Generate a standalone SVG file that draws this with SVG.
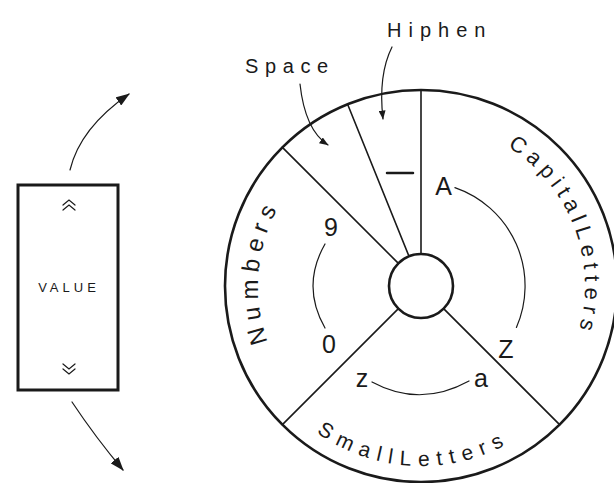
<svg xmlns="http://www.w3.org/2000/svg" width="614" height="483" viewBox="0 0 614 483">
<style>
.ln{fill:none;stroke:#1a1a1a;stroke-linecap:round}
.thick{stroke-width:2.6}
.mid{stroke-width:1.6}
.thin{stroke-width:1.2}
.t{font-family:"Liberation Sans",Arial,sans-serif;fill:#1a1a1a}
.big{font-size:25px;text-anchor:middle}
.cap{font-size:22px;letter-spacing:5.7px}
.num{font-size:24px;letter-spacing:6.5px}
.sml{font-size:21px;letter-spacing:7.4px}
.top{font-size:20px}
</style>
<defs>
<marker id="ahBig" viewBox="0 0 14 10" refX="13" refY="5" markerWidth="14" markerHeight="10" markerUnits="userSpaceOnUse" orient="auto"><path d="M0,0 L14,5 L0,10 z" fill="#1a1a1a"/></marker>
<marker id="ahSmall" viewBox="0 0 9 7" refX="8.5" refY="3.5" markerWidth="9" markerHeight="7" markerUnits="userSpaceOnUse" orient="auto"><path d="M0,0 L9,3.5 L0,7 z" fill="#1a1a1a"/></marker>
<path id="pNumbers" d="M305.7,401.3 A163,163 0 0 1 327.5,152.5"/>
<path id="pCapital" d="M475.5,131.3 A164,164 0 0 1 563.9,366.5"/>
<path id="pSmall" d="M277.7,395 A180,180 0 0 0 553.2,408.2"/>
</defs>
<rect width="614" height="483" fill="#ffffff"/>

<g id="value-box">
<rect x="18" y="185" width="100" height="205" class="ln" stroke-width="3"/>
<path class="ln thin" d="M63,205 L69,200 L75,205 M63,210 L69,205 L75,210"/>
<text class="t" x="69" y="292" font-size="13" letter-spacing="4" text-anchor="middle">VALUE</text>
<path class="ln thin" d="M63,364 L69,369 L75,364 M63,369 L69,374 L75,369"/>
</g>

<g id="dial">
<circle cx="421" cy="286" r="196" class="ln thick"/>
<circle cx="421" cy="286" r="32" class="ln thick"/>
<path class="ln mid" d="M421,254 L421,90 M409,256.3 L347.6,104.3 M398.4,263.4 L282.4,147.4 M398.4,308.6 L282.4,424.6 M443.6,308.6 L559.6,424.6"/>
</g>

<g id="hyphen-segment">
<path class="ln" stroke-width="2.5" d="M387,173 L413,173"/>
</g>

<g id="capital-letters">
<text class="t cap"><textPath href="#pCapital" startOffset="50%" text-anchor="middle">CapitalLetters</textPath></text>
<text class="t big" x="443.5" y="195">A</text>
<text class="t big" x="506" y="358">Z</text>
<path class="ln thin" d="M454.9,187.6 A104,104 0 0 1 516.4,327.5"/>
</g>

<g id="numbers">
<text class="t num"><textPath href="#pNumbers" startOffset="50%" text-anchor="middle">Numbers</textPath></text>
<text class="t big" x="331" y="236">9</text>
<text class="t big" x="329" y="353">0</text>
<path class="ln thin" d="M325,244 Q301,286 325,328"/>
</g>

<g id="small-letters">
<text class="t sml"><textPath href="#pSmall" startOffset="50%" text-anchor="middle">SmallLetters</textPath></text>
<text class="t big" x="362" y="387">z</text>
<text class="t big" x="481" y="387">a</text>
<path class="ln thin" d="M372,382 Q420,408 469,381"/>
</g>

<g id="label-hiphen">
<text class="t top" x="387" y="36.5" letter-spacing="7">Hiphen</text>
</g>
<g id="label-space">
<text class="t top" x="245" y="72.5" letter-spacing="6.6">Space</text>
</g>

<g id="connectors">
<path class="ln thin" d="M392,47 Q378,75 383,119" marker-end="url(#ahSmall)"/>
<path class="ln thin" d="M300,84 Q305,130 328,145" marker-end="url(#ahSmall)"/>
<path class="ln thin" d="M70,170 Q80,128 129,94" marker-end="url(#ahBig)"/>
<path class="ln thin" d="M72,402 Q96,438 123,470" marker-end="url(#ahBig)"/>
</g>
</svg>
